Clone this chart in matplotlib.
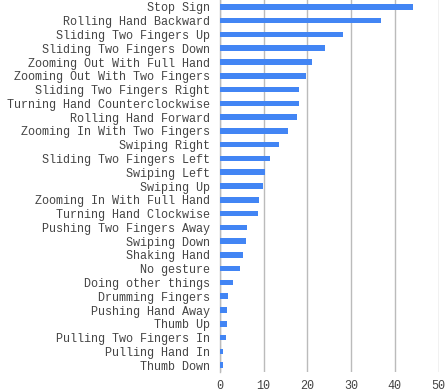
import matplotlib
matplotlib.use("Agg")
import matplotlib.pyplot as plt

categories = [
    "Stop Sign", "Rolling Hand Backward", "Sliding Two Fingers Up",
    "Sliding Two Fingers Down", "Zooming Out With Full Hand",
    "Zooming Out With Two Fingers", "Sliding Two Fingers Right",
    "Turning Hand Counterclockwise", "Rolling Hand Forward",
    "Zooming In With Two Fingers", "Swiping Right", "Sliding Two Fingers Left",
    "Swiping Left", "Swiping Up", "Zooming In With Full Hand",
    "Turning Hand Clockwise", "Pushing Two Fingers Away", "Swiping Down",
    "Shaking Hand", "No gesture", "Doing other things", "Drumming Fingers",
    "Pushing Hand Away", "Thumb Up", "Pulling Two Fingers In",
    "Pulling Hand In", "Thumb Down",
]
values = [44.2, 36.8, 28.2, 24.1, 21.0, 19.6, 18.2, 18.0, 17.6, 15.6, 13.6,
          11.4, 10.3, 9.9, 9.0, 8.6, 6.2, 6.0, 5.3, 4.7, 3.1, 1.8, 1.6, 1.6,
          1.4, 0.8, 0.8]
xticks = [0, 10, 20, 30, 40, 50]

plt.rcParams['font.family'] = ['Liberation Mono', 'DejaVu Sans Mono']

fig = plt.figure(figsize=(4.47, 3.92), dpi=100)
ax = fig.add_axes([0.492, 0.051, 0.489, 0.949])

y = list(range(len(categories)))
ax.barh(y, values, height=0.4, color="#4285F4", zorder=3)
ax.set_ylim(len(categories) - 0.5, -0.5)
ax.set_xlim(0, 50)
ax.set_yticks(y)
ax.set_yticklabels(categories, fontsize=8.5, color="#444444")
ax.set_xticks(xticks)
ax.set_xticklabels([str(t) for t in xticks], fontsize=8.5, color="#444444")
ax.tick_params(axis='both', length=0)
ax.tick_params(axis='y', pad=7)
ax.tick_params(axis='x', pad=6)
ax.xaxis.grid(True, color="#bbbbbb", linewidth=1, zorder=0)
for s in ["top", "right", "bottom"]:
    ax.spines[s].set_visible(False)
ax.spines["left"].set_color("#bbbbbb")
ax.spines["left"].set_linewidth(1)

fig.savefig("out.png", dpi=100)
